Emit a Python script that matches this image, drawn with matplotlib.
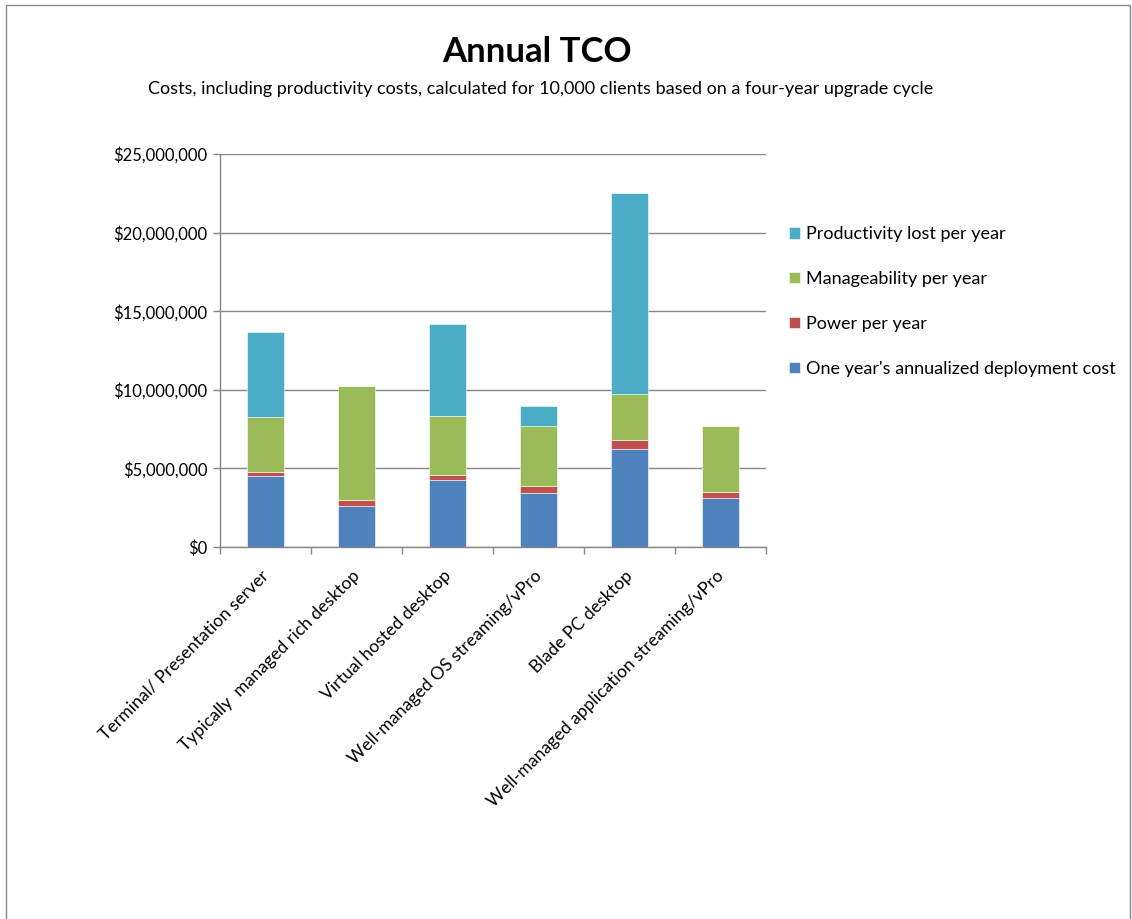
import matplotlib
matplotlib.use("Agg")
import matplotlib.pyplot as plt
import numpy as np
from matplotlib.patches import Rectangle
from matplotlib.ticker import FuncFormatter, MultipleLocator
from matplotlib.transforms import ScaledTranslation

categories = ["Terminal/ Presentation server", "Typically  managed rich desktop",
              "Virtual hosted desktop", "Well-managed OS streaming/vPro",
              "Blade PC desktop", "Well-managed application streaming/vPro"]
deployment = [4.53e6, 2.59e6, 4.25e6, 3.42e6, 6.23e6, 3.13e6]
power = [0.26e6, 0.40e6, 0.30e6, 0.45e6, 0.55e6, 0.38e6]
manageability = [3.47e6, 7.23e6, 3.78e6, 3.83e6, 2.96e6, 4.21e6]
productivity = [5.42e6, 0.0, 5.85e6, 1.25e6, 12.79e6, 0.0]

series_names = ["One year's annualized deployment cost", "Power per year",
                "Manageability per year", "Productivity lost per year"]
colors = ["#4F81BD", "#C0504D", "#9BBB59", "#4BACC6"]

plt.rcParams['font.family'] = ['Lato', 'DejaVu Sans']

fig = plt.figure(figsize=(11.32, 9.19), dpi=100)
ax = fig.add_axes([220/1132, 1-547/919, (766-220)/1132, (547-154)/919])

x = np.arange(len(categories))
bottom = np.zeros(len(categories))
handles = []
for vals, name, c in zip([deployment, power, manageability, productivity], series_names, colors):
    v = np.array(vals)
    b = ax.bar(x, v, width=0.4, bottom=bottom, color=c, label=name, edgecolor='white', linewidth=0.4, zorder=3)
    handles.append(b)
    bottom += v

ax.set_xlim(-0.5, len(categories) - 0.5)
ax.set_ylim(0, 25e6)
ax.yaxis.set_major_locator(MultipleLocator(5e6))
ax.yaxis.set_major_formatter(FuncFormatter(lambda v, p: "${:,.0f}".format(v)))
ax.grid(axis='y', color='#878787', linewidth=1.0, zorder=0)
ax.set_axisbelow(True)
for s in ['top', 'right']:
    ax.spines[s].set_visible(False)
for s in ['left', 'bottom']:
    ax.spines[s].set_color('#878787')
    ax.spines[s].set_linewidth(1.0)

ax.set_xticks(x)
ax.set_xticklabels(categories, rotation=45, ha='right', rotation_mode='anchor', fontsize=12.7)
ax.tick_params(axis='x', length=0, pad=15)
offset = ScaledTranslation(-5/100, 0, fig.dpi_scale_trans)
for lab in ax.get_xticklabels():
    lab.set_transform(lab.get_transform() + offset)
ax.set_xticks(np.arange(-0.5, len(categories)), minor=True)
ax.tick_params(axis='x', which='minor', length=5, color='#878787', width=1)
ax.tick_params(axis='y', length=5, color='#878787', width=1, labelsize=12, pad=4)

leg_h = handles[::-1]
leg_l = series_names[::-1]
fig.legend(leg_h, leg_l, loc='upper left', bbox_to_anchor=(782/1132, 1-219/919),
           frameon=False, fontsize=13, handlelength=0.6, handleheight=0.6,
           handletextpad=0.35, labelspacing=1.6, borderaxespad=0)

fig.text(537/1132, 1-52/919, "Annual TCO", ha='center', va='center', fontsize=25, fontweight='bold')
fig.text(541/1132, 1-89/919, "Costs, including productivity costs, calculated for 10,000 clients based on a four-year upgrade cycle",
         ha='center', va='center', fontsize=13)

fig.patches.append(Rectangle((6/1132, -0.01), (1130-6)/1132, 1-5/919 + 0.01, transform=fig.transFigure,
                             fill=False, edgecolor='#878787', linewidth=1.0))

fig.savefig("out.png", dpi=100)
